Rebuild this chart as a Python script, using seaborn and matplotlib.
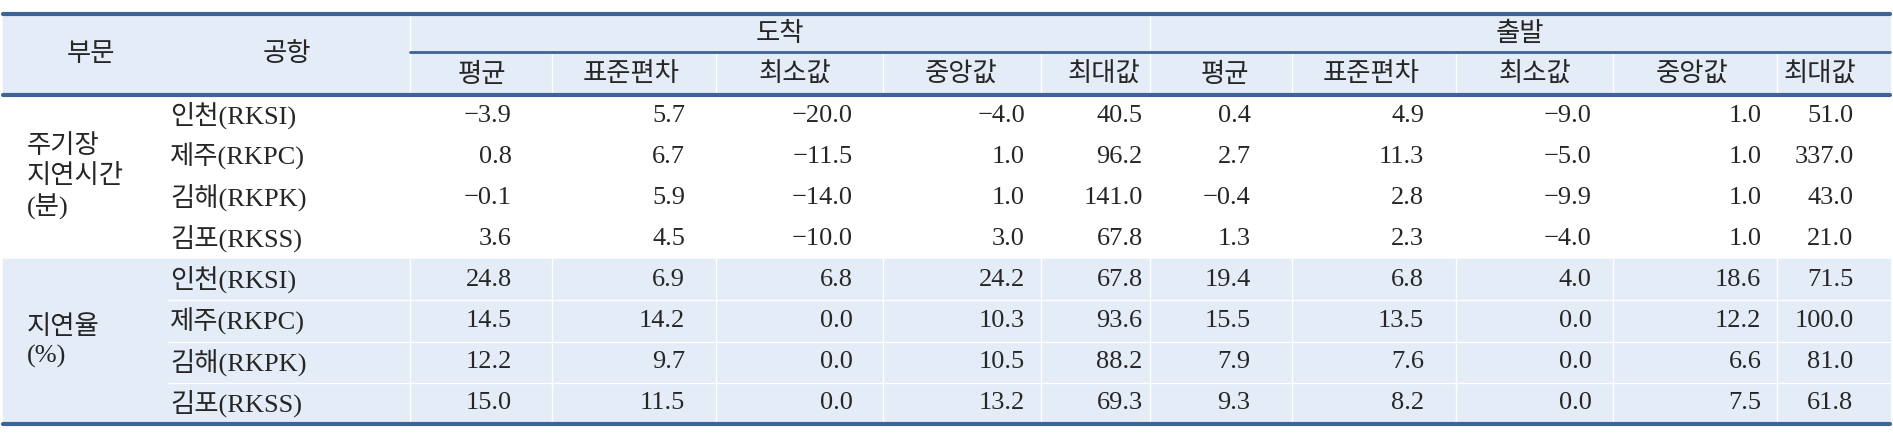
import matplotlib
matplotlib.use("Agg")
import matplotlib.pyplot as plt
import seaborn as sns

sns.set_theme(style="white")
plt.rcParams['font.family'] = ['Liberation Serif', 'Noto Sans CJK KR', 'DejaVu Sans']

sections = ["주기장\n지연시간\n(분)", "지연율\n(%)"]
airports = ["인천(RKSI)", "제주(RKPC)", "김해(RKPK)", "김포(RKSS)"]
groups = ["도착", "출발"]
stats = ["평균", "표준편차", "최소값", "중앙값", "최대값"]
delay_time = [
    [-3.9, 5.7, -20.0, -4.0, 40.5, 0.4, 4.9, -9.0, 1.0, 51.0],
    [0.8, 6.7, -11.5, 1.0, 96.2, 2.7, 11.3, -5.0, 1.0, 337.0],
    [-0.1, 5.9, -14.0, 1.0, 141.0, -0.4, 2.8, -9.9, 1.0, 43.0],
    [3.6, 4.5, -10.0, 3.0, 67.8, 1.3, 2.3, -4.0, 1.0, 21.0],
]
delay_rate = [
    [24.8, 6.9, 6.8, 24.2, 67.8, 19.4, 6.8, 4.0, 18.6, 71.5],
    [14.5, 14.2, 0.0, 10.3, 93.6, 15.5, 13.5, 0.0, 12.2, 100.0],
    [12.2, 9.7, 0.0, 10.5, 88.2, 7.9, 7.6, 0.0, 6.6, 81.0],
    [15.0, 11.5, 0.0, 13.2, 69.3, 9.3, 8.2, 0.0, 7.5, 61.8],
]

W, H = 1893, 436
fig = plt.figure(figsize=(W / 100, H / 100), dpi=100)
ax = fig.add_axes([0, 0, 1, 1])
ax.set_xlim(0, W)
ax.set_ylim(H, 0)
ax.axis("off")

s = 1.213
bounds = [x * s for x in [338, 455, 590, 728, 858, 948, 1065, 1200, 1330, 1465, 1558]]
right_edges = [x * s for x in [422, 565, 703, 845, 942, 1031, 1174, 1312, 1452, 1528]]
head_centers = [x * s for x in [397, 520, 655, 792, 910, 1010, 1130, 1265, 1395, 1500]]
left, right = 3, bounds[-1]
top, mid, hbot, sec2, bot = 14, 52, 95, 259, 424
bg = "#e4ecf7"
line = "#3e6497"
fs = 19

ax.add_patch(plt.Rectangle((left, top), right - left, hbot - top, color=bg, zorder=0))
ax.add_patch(plt.Rectangle((left, sec2), right - left, bot - sec2, color=bg, zorder=0))
ax.plot([left, right], [top, top], color=line, lw=3)
ax.plot([bounds[0], right], [mid, mid], color=line, lw=2)
ax.plot([left, right], [hbot, hbot], color=line, lw=3)
ax.plot([left, right], [bot, bot], color=line, lw=3)
for b in bounds[:-1]:
    y0 = top if b in (bounds[0], bounds[5]) else mid
    ax.plot([b, b], [y0, hbot], color="white", lw=1, zorder=0.5)
    ax.plot([b, b], [sec2, bot], color="white", lw=1, zorder=0.5)
rh = (bot - sec2) / 4
for i in range(1, 4):
    ax.plot([168, right], [sec2 + i * rh, sec2 + i * rh], color="white", lw=1, zorder=0.5)

ax.text(91, (top + hbot) / 2, "부문", ha="center", va="center", fontsize=fs)
ax.text(287, (top + hbot) / 2, "공항", ha="center", va="center", fontsize=fs)
ax.text((bounds[0] + bounds[5]) / 2, (top + mid) / 2 + 1, groups[0], ha="center", va="center", fontsize=fs)
ax.text((bounds[5] + bounds[10]) / 2, (top + mid) / 2 + 1, groups[1], ha="center", va="center", fontsize=fs)
for j, c in enumerate(head_centers):
    ax.text(c, (mid + hbot) / 2 + 1, stats[j % 5], ha="center", va="center", fontsize=fs)

def fmt(v):
    t = f"{abs(v):.1f}"
    return ("\u2212" + t) if v < 0 else t

for k, (y0, data) in enumerate([(hbot, delay_time), (sec2, delay_rate)]):
    h = ((sec2 - hbot) if k == 0 else (bot - sec2)) / 4
    ax.text(27, y0 + 2 * h, sections[k], ha="left", va="center", fontsize=fs, linespacing=1.3)
    for i, name in enumerate(airports):
        y = y0 + (i + 0.5) * h
        ax.text(170, y, name, ha="left", va="center", fontsize=fs)
        for j, v in enumerate(data[i]):
            ax.text(right_edges[j], y, fmt(v), ha="right", va="center", fontsize=fs)

fig.savefig("out.png", dpi=100)
